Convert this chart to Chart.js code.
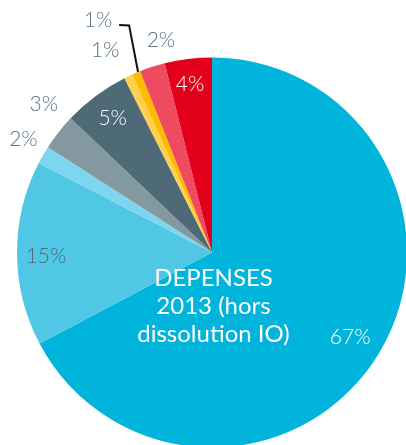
<!DOCTYPE html>
<html>
<head>
<meta charset="utf-8">
<script src="https://cdn.jsdelivr.net/npm/chart.js@4/dist/chart.umd.min.js"></script>
<style>
  html, body { margin: 0; padding: 0; overflow: hidden; background: #fff; width: 406px; height: 445px; }
  #wrap { position: absolute; left: 0; top: 0; width: 407px; height: 448px; }
</style>
</head>
<body>
<div id="wrap"><canvas id="pie" width="407" height="448"></canvas></div>
<script>
  // slices, clockwise from 12 o'clock
  const categories = ['A', 'B', 'C', 'D', 'E', 'F', 'G', 'H', 'I'];
  const values = [67.2, 15.3, 1.5, 3.0, 5.5, 0.7, 0.7, 2.1, 3.9];
  const valueLabels = ['67%', '15%', '2%', '3%', '5%', '1%', '1%', '2%', '4%'];
  const centerLines = ['DEPENSES', '2013 (hors', 'dissolution IO)'];

  const colors = ['#00b4dc', '#50c8e5', '#7dd6ee', '#84989f', '#4e6a77', '#ffd04f', '#ffbb00', '#ee4b61', '#e3001b'];
  const labelColors = ['#ffffff', '#4f6a78', '#5b7582', '#5b7582', '#ffffff', '#5b7582', '#5b7582', '#5b7582', '#ffffff'];
  // label placement: distance from centre, and angle nudge in degrees
  const labelRadius = [162, 166, 220, 224, 167, 229, 259, 218, 170];
  const labelNudge = [0.4, -0.9, 1.0, 3.2, 0.1, -2.4, -3.2, 4.3, -0.4];
  const leaderFor = 6;

  const labelPlugin = {
    id: 'labelPlugin',
    afterDraw(chart) {
      const ctx = chart.ctx;
      const arcs = chart.getDatasetMeta(0).data;
      ctx.save();
      ctx.textAlign = 'center';
      ctx.textBaseline = 'middle';
      ctx.font = '300 21px Lato, "Open Sans", sans-serif';
      arcs.forEach((arc, i) => {
        const mid = (arc.startAngle + arc.endAngle) / 2 + labelNudge[i] * Math.PI / 180;
        const x = arc.x + Math.cos(mid) * labelRadius[i];
        const y = arc.y + Math.sin(mid) * labelRadius[i];
        ctx.fillStyle = labelColors[i];
        ctx.fillText(valueLabels[i], x, y);
        if (i === leaderFor) {
          const a = (arc.startAngle + arc.endAngle) / 2 + 0.6 * Math.PI / 180;
          const ex = arc.x + Math.cos(a) * arc.outerRadius;
          const ey = arc.y + Math.sin(a) * arc.outerRadius;
          ctx.beginPath();
          ctx.moveTo(x + 21, y + 5);
          ctx.lineTo(x + 31, y + 5.5);
          ctx.lineTo(ex, ey);
          ctx.strokeStyle = '#111';
          ctx.lineWidth = 2;
          ctx.stroke();
        }
      });

      const c = arcs[0];
      ctx.fillStyle = '#ffffff';
      ctx.font = '400 24px Lato, "Open Sans", sans-serif';
      centerLines.forEach((line, i) => {
        ctx.fillText(line, c.x + 1.5, c.y + 25.5 + i * 28.3);
      });
      ctx.restore();
    }
  };

  new Chart(document.getElementById('pie'), {
    type: 'pie',
    data: {
      labels: categories,
      datasets: [{
        data: values,
        backgroundColor: colors,
        borderWidth: 0
      }]
    },
    options: {
      responsive: false,
      animation: false,
      layout: { padding: { top: 57, left: 17, right: 0, bottom: 0 } },
      plugins: {
        legend: { display: false },
        tooltip: { enabled: false }
      }
    },
    plugins: [labelPlugin]
  });
</script>
</body>
</html>
